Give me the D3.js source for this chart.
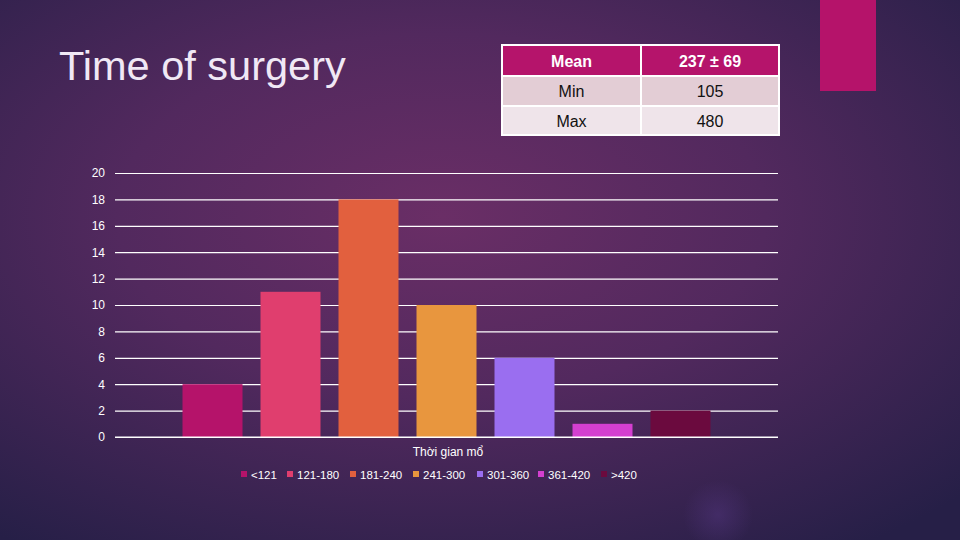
<!DOCTYPE html>
<html><head><meta charset="utf-8">
<script src="https://cdn.jsdelivr.net/npm/d3@7"></script>
<style>body{margin:0;background:#2a2148}svg{display:block;font-family:"Liberation Sans",Arial,sans-serif}</style>
</head><body>
<script>
const categories = ["Thời gian mổ"];
const series = ["<121","121-180","181-240","241-300","301-360","361-420",">420"];
const values = [4,11,18,10,6,1,2];
const colors = ["#b5136a","#e03e6e","#e2603e","#e8963e","#9a6ef0","#d43fd0","#6b0a3e"];
const yTicks = [0,2,4,6,8,10,12,14,16,18,20];
const tableRows = [["Mean","237 ± 69"],["Min","105"],["Max","480"]];

const W=960,H=540;
const svg=d3.select("body").append("svg").attr("width",W).attr("height",H);
const defs=svg.append("defs");
const g1=defs.append("radialGradient").attr("id","bg").attr("cx",0.46).attr("cy",0.4).attr("r",0.75);
g1.append("stop").attr("offset","0").attr("stop-color","#6a2e66");
g1.append("stop").attr("offset","0.45").attr("stop-color","#52295e");
g1.append("stop").attr("offset","1").attr("stop-color","#261f47");
svg.append("rect").attr("width",W).attr("height",H).attr("fill","url(#bg)");
const g2=defs.append("radialGradient").attr("id","spot").attr("cx",0.5).attr("cy",0.5).attr("r",0.5);
g2.append("stop").attr("offset","0").attr("stop-color","#5a3a8a").attr("stop-opacity",0.4);
g2.append("stop").attr("offset","1").attr("stop-color","#5a3a8a").attr("stop-opacity",0);
svg.append("circle").attr("cx",718).attr("cy",515).attr("r",35).attr("fill","url(#spot)");

// pink accent
svg.append("rect").attr("x",820).attr("y",0).attr("width",56).attr("height",91).attr("fill","#b5136a");

// title
svg.append("text").attr("x",59).attr("y",80).attr("fill","#f0e8f5").attr("font-size",41.5).text("Time of surgery");

// table
const tx=502, tw=[139,138], th=[31,30,29];
let ty=45;
tableRows.forEach((r,i)=>{
  const fill = i===0?"#b5146b":(i===1?"#e3cdd5":"#efe4ea");
  let cx=tx;
  r.forEach((c,j)=>{
    svg.append("rect").attr("x",cx).attr("y",ty).attr("width",tw[j]).attr("height",th[i]).attr("fill",fill).attr("stroke","#ffffff").attr("stroke-width",2);
    svg.append("text").attr("x",cx+tw[j]/2).attr("y",ty+th[i]/2+6).attr("text-anchor","middle")
      .attr("font-size",16).attr("font-weight",i===0?"bold":"normal").attr("fill",i===0?"#ffffff":"#111111").text(c);
    cx+=tw[j];
  });
  ty+=th[i];
});

// chart
const x0=115,x1=778,yTop=173,yBot=437;
const y=d3.scaleLinear().domain([0,20]).range([yBot,yTop]);
const xb=d3.scaleBand().domain(categories).range([x0,x1]).paddingInner(0).paddingOuter(0);
const axis=svg.append("g").attr("transform",`translate(${x0},0)`).call(d3.axisLeft(y).tickValues(yTicks).tickSize(-(x1-x0)).tickPadding(10));
axis.select(".domain").remove();
axis.selectAll(".tick line").attr("stroke","#ffffff").attr("stroke-width",1.2);
axis.selectAll(".tick text").attr("fill","#ffffff").attr("font-size",12).attr("font-family","Liberation Sans, Arial, sans-serif");

const barW=60,gap=18, groupW=series.length*barW+(series.length-1)*gap;
const gStart=x0+((x1-x0)-groupW)/2;
const xBar=d3.scaleBand().domain(series).range([gStart,gStart+groupW]).paddingInner(gap/(barW+gap)).paddingOuter(0);
svg.append("g").selectAll("rect").data(series).join("rect")
  .attr("x",d=>xBar(d)).attr("width",xBar.bandwidth())
  .attr("y",(d,i)=>y(values[i])).attr("height",(d,i)=>yBot-y(values[i]))
  .attr("fill",(d,i)=>colors[i]);
svg.append("line").attr("x1",x0).attr("x2",x1).attr("y1",yBot).attr("y2",yBot).attr("stroke","#fff").attr("stroke-width",1.2);

svg.append("text").attr("x",448).attr("y",456).attr("text-anchor","middle")
  .attr("fill","#ffffff").attr("font-size",12).text(categories[0]);

// legend
const legX=[241,287,350,413,477,538,601];
const leg=svg.append("g");
series.forEach((s,i)=>{
  leg.append("rect").attr("x",legX[i]).attr("y",471).attr("width",6).attr("height",6).attr("fill",colors[i]);
  leg.append("text").attr("x",legX[i]+10).attr("y",479).attr("fill","#ffffff").attr("font-size",11.5).text(s);
});
</script>
</body></html>
